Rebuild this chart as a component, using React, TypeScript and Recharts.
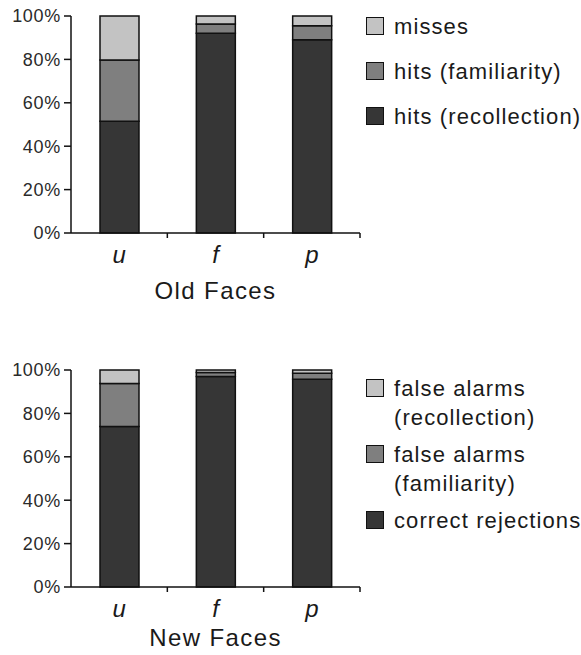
import { Bar, BarChart, Legend, XAxis, YAxis } from 'recharts'

const conditions = ['u', 'f', 'p']
const percentTicks = [0, 20, 40, 60, 80, 100]

// old faces (stacked from the bottom)
const oldRecollection = [51.5, 92, 89]
const oldFamiliarity = [28.2, 4.3, 6.5]
const oldMisses = [20.3, 3.7, 4.5]

// new faces (stacked from the bottom)
const newCorrect = [74, 97, 95.7]
const newFamiliarity = [19.8, 1.8, 2.8]
const newRecollection = [6.2, 1.2, 1.5]

const DARK = '#363636'
const MID = '#7f7f7f'
const LIGHT = '#c3c3c3'
const FONT = '"Liberation Sans", Arial, sans-serif'

type Series = { key: string; name: string; fill: string }

const oldSeries: Series[] = [
  { key: 'recollection', name: 'hits (recollection)', fill: DARK },
  { key: 'familiarity', name: 'hits (familiarity)', fill: MID },
  { key: 'misses', name: 'misses', fill: LIGHT },
]

const newSeries: Series[] = [
  { key: 'correct', name: 'correct rejections', fill: DARK },
  { key: 'familiarity', name: 'false alarms (familiarity)', fill: MID },
  { key: 'recollection', name: 'false alarms (recollection)', fill: LIGHT },
]

const oldData = conditions.map((name, i) => ({
  name,
  recollection: oldRecollection[i],
  familiarity: oldFamiliarity[i],
  misses: oldMisses[i],
}))

const newData = conditions.map((name, i) => ({
  name,
  correct: newCorrect[i],
  familiarity: newFamiliarity[i],
  recollection: newRecollection[i],
}))

// italic category letter plus a small tick mark on the category boundary
const CategoryTick = (props: any) => {
  const { x, y, payload } = props
  const half = payload?.offset || 48
  return (
    <g>
      <line x1={x + half} y1={y} x2={x + half} y2={y + 5} stroke="#111" strokeWidth={1.5} />
      <text
        x={x}
        y={y + 30}
        textAnchor="middle"
        fontSize={24}
        fontStyle="italic"
        fontFamily={FONT}
        fill="#1a1a1a"
      >
        {payload.value}
      </text>
    </g>
  )
}

// long names wrap onto a second line, the way the original legend does
const makeLegend = (series: Series[], gap: number) => () => (
  <div style={{ fontFamily: FONT, fontSize: 22, letterSpacing: 1.1, color: '#1a1a1a' }}>
    {[...series].reverse().map((s) => (
      <div
        key={s.key}
        style={{ display: 'flex', alignItems: 'flex-start', marginBottom: gap, lineHeight: '29px' }}
      >
        <div
          style={{
            width: 18,
            height: 18,
            boxSizing: 'border-box',
            border: '1.5px solid #111',
            background: s.fill,
            marginTop: 5,
            flex: 'none',
          }}
        />
        <div style={{ marginLeft: 10, width: 240, flex: 'none' }}>{s.name}</div>
      </div>
    ))}
  </div>
)

type PanelProps = {
  data: Record<string, any>[]
  series: Series[]
  title: string
  height: number
  top: number
  titleOffset: number
  legendTop: number
  legendGap: number
}

const Panel = ({ data, series, title, height, top, titleOffset, legendTop, legendGap }: PanelProps) => (
  <BarChart
    width={581}
    height={height}
    data={data}
    margin={{ top, right: 221, bottom: 0, left: 0 }}
    barSize={39}
  >
    <YAxis
      width={71}
      domain={[0, 100]}
      ticks={percentTicks}
      tickFormatter={(v: number) => `${v}%`}
      tickSize={7}
      tickMargin={3}
      axisLine={{ stroke: '#111', strokeWidth: 1.5 }}
      tickLine={{ stroke: '#111', strokeWidth: 1.5 }}
      tick={{ fontSize: 18, fill: '#2a2a2a', fontFamily: FONT, letterSpacing: 0.7 }}
    />
    <XAxis
      dataKey="name"
      height={height - top - 217}
      tickSize={0}
      tickMargin={0}
      tickLine={false}
      axisLine={{ stroke: '#111', strokeWidth: 1.5 }}
      tick={<CategoryTick />}
      label={{
        value: title,
        position: 'insideBottom',
        offset: titleOffset,
        fontSize: 24,
        fill: '#1a1a1a',
        fontFamily: FONT,
        letterSpacing: 1.4,
      }}
    />
    <Legend
      layout="vertical"
      align="center"
      verticalAlign="middle"
      wrapperStyle={{ left: 366, top: legendTop, width: 280 }}
      content={makeLegend(series, legendGap)}
    />
    {series.map((s) => (
      <Bar
        key={s.key}
        dataKey={s.key}
        name={s.name}
        stackId="a"
        fill={s.fill}
        stroke="#111"
        strokeWidth={1.5}
        isAnimationActive={false}
      />
    ))}
  </BarChart>
)

export default function App() {
  return (
    <div
      style={{
        position: 'absolute',
        left: 0,
        top: 0,
        width: 581,
        height: 655,
        overflow: 'hidden',
        background: '#fff',
      }}
    >
      <Panel
        data={oldData}
        series={oldSeries}
        title="Old Faces"
        height={320}
        top={16}
        titleOffset={21}
        legendTop={12}
        legendGap={16}
      />
      <Panel
        data={newData}
        series={newSeries}
        title="New Faces"
        height={335}
        top={50}
        titleOffset={9}
        legendTop={54}
        legendGap={8}
      />
    </div>
  )
}
